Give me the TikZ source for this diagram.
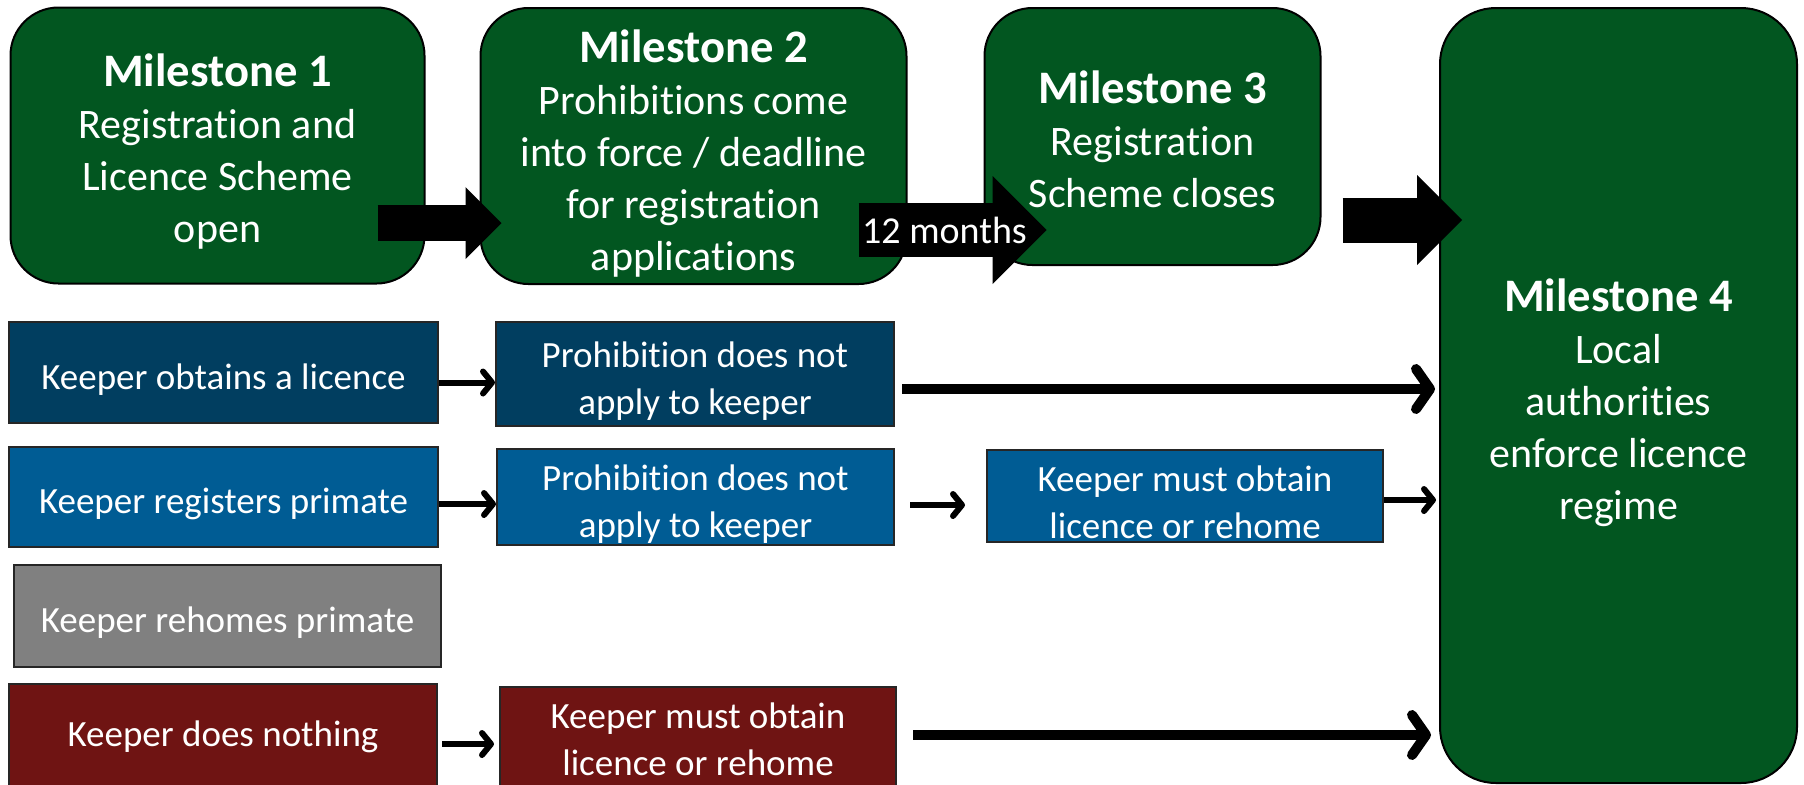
\documentclass[tikz,border=0pt]{standalone}
\usepackage{fontspec}
\setmainfont{Carlito}[Ligatures=NoCommon]
\usetikzlibrary{positioning,arrows.meta,calc}

\definecolor{msgreen}{RGB}{2,86,32}
\definecolor{navyrow}{RGB}{1,62,96}
\definecolor{bluerow}{RGB}{0,92,148}
\definecolor{grayrow}{RGB}{128,128,128}
\definecolor{maroonrow}{RGB}{111,20,19}

% bold title line, lifted by a strut of the given height
\newcommand\mtitle[2]{{\fontsize{23.3}{28}\selectfont\bfseries\rule{0pt}{#2}#1}}
\newcommand\rowlift{\rule{0pt}{19.5pt}}

\begin{document}
\begin{tikzpicture}[x=0.5pt,y=-0.5pt,
  milestone/.style={rectangle,rounded corners=24pt,draw=black,line width=1pt,fill=msgreen,
    text=white,align=center,inner sep=0pt,font=\fontsize{21}{26}\selectfont},
  rowbox/.style={rectangle,draw=black!85,line width=1pt,text=white,align=center,
    inner sep=0pt,font=\fontsize{18.5}{23.5}\selectfont},
  bigarr/.style={line width=#1,-{Triangle[length=#1,width=2*#1,line width=0pt]}},
  longarr/.style={line width=5pt,-{Straight Barb[length=7pt,width=20pt,round]}},
  shortarr/.style={line width=3pt,-{Straight Barb[length=4.5pt,width=11pt,round]}}]
  \useasboundingbox (0,0) rectangle (1804,784);
  % milestones
  \node[milestone,minimum width=207pt,minimum height=138pt] (m1) at (217.5,145.5)
    {\mtitle{Milestone 1}{22pt}\\Registration and\\Licence Scheme\\open};
  \node[milestone,minimum width=213pt,minimum height=138pt] (m2) at (693.5,146)
    {\mtitle{Milestone 2}{24pt}\\Prohibitions come\\into force / deadline\\for registration\\applications};
  \node[milestone,minimum width=168pt,minimum height=128.5pt] (m3) at (1152.5,136.5)
    {\mtitle{Milestone 3}{19.5pt}\\Registration\\Scheme closes};
  \node[milestone,rounded corners=28pt,minimum width=178.5pt,minimum height=387.5pt] (m4) at (1618.5,395.5)
    {\mtitle{Milestone 4}{24pt}\\Local\\authorities\\enforce licence\\regime};
  % keeper rows
  \node[rowbox,fill=navyrow,minimum width=214.5pt,minimum height=50.5pt] (own) at (223.5,372.5) {\rowlift Keeper obtains a licence};
  \node[rowbox,fill=navyrow,minimum width=199pt,minimum height=52pt] (ownok) at (695,374) {\rowlift Prohibition does not\\apply to keeper};
  \node[rowbox,fill=bluerow,minimum width=214.5pt,minimum height=50pt] (reg) at (223.5,497) {\rowlift Keeper registers primate};
  \node[rowbox,fill=bluerow,minimum width=198.5pt,minimum height=48pt] (regok) at (695.5,497) {\rowlift Prohibition does not\\apply to keeper};
  \node[rowbox,fill=bluerow,minimum width=198pt,minimum height=46pt] (regmust) at (1185,496) {\rowlift Keeper must obtain\\licence or rehome};
  \node[rowbox,fill=grayrow,minimum width=213.5pt,minimum height=51pt] (rehome) at (227.5,616) {\rowlift Keeper rehomes primate};
  \node[rowbox,fill=maroonrow,minimum width=214pt,minimum height=53pt] (none) at (223,737) {Keeper does nothing};
  \node[rowbox,fill=maroonrow,minimum width=198pt,minimum height=52pt] (nonemust) at (698,739) {Keeper must obtain\\licence or rehome};
  % block arrows between milestones
  \draw[bigarr=18pt] ($(m1.east)+(-48,77.5)$) -- ($(m2.west)+(22,77)$);
  \draw[bigarr=27pt] ($(m2.east)+(-49,84)$) -- ($(m3.west)+(63,93.5)$)
    node[pos=0.5,text=white,font=\fontsize{19}{23}\selectfont,xshift=-4pt] (gap) {12 months};
  \draw[bigarr=22.5pt] ($(m3.east)+(21,83.5)$) -- ($(m4.west |- m3.east)+(23,83.5)$);
  % keeper arrows
  \draw[shortarr] ($(own.east)+(0,10)$) -- ($(ownok.west |- own.east)+(0,10)$);
  \draw[longarr] ($(ownok.east)+(7,15)$) -- ($(m4.west |- ownok.east)+(-4,15)$);
  \draw[shortarr] ($(reg.east)+(0,7)$) -- ($(regok.west |- reg.east)+(0,7)$);
  \draw[shortarr] ($(regok.east)+(15,8)$) -- ($(regmust.west |- regok.east)+(-21,8)$);
  \draw[shortarr] ($(regmust.east)+(0,4)$) -- ($(m4.west |- regmust.east)+(-3,4)$);
  \draw[shortarr] ($(none.east)+(4,7)$) -- ($(nonemust.west |- none.east)+(-5,7)$);
  \draw[longarr] ($(nonemust.east)+(16,-4)$) -- ($(m4.west |- nonemust.east)+(-8,-4)$);
\end{tikzpicture}
\end{document}
